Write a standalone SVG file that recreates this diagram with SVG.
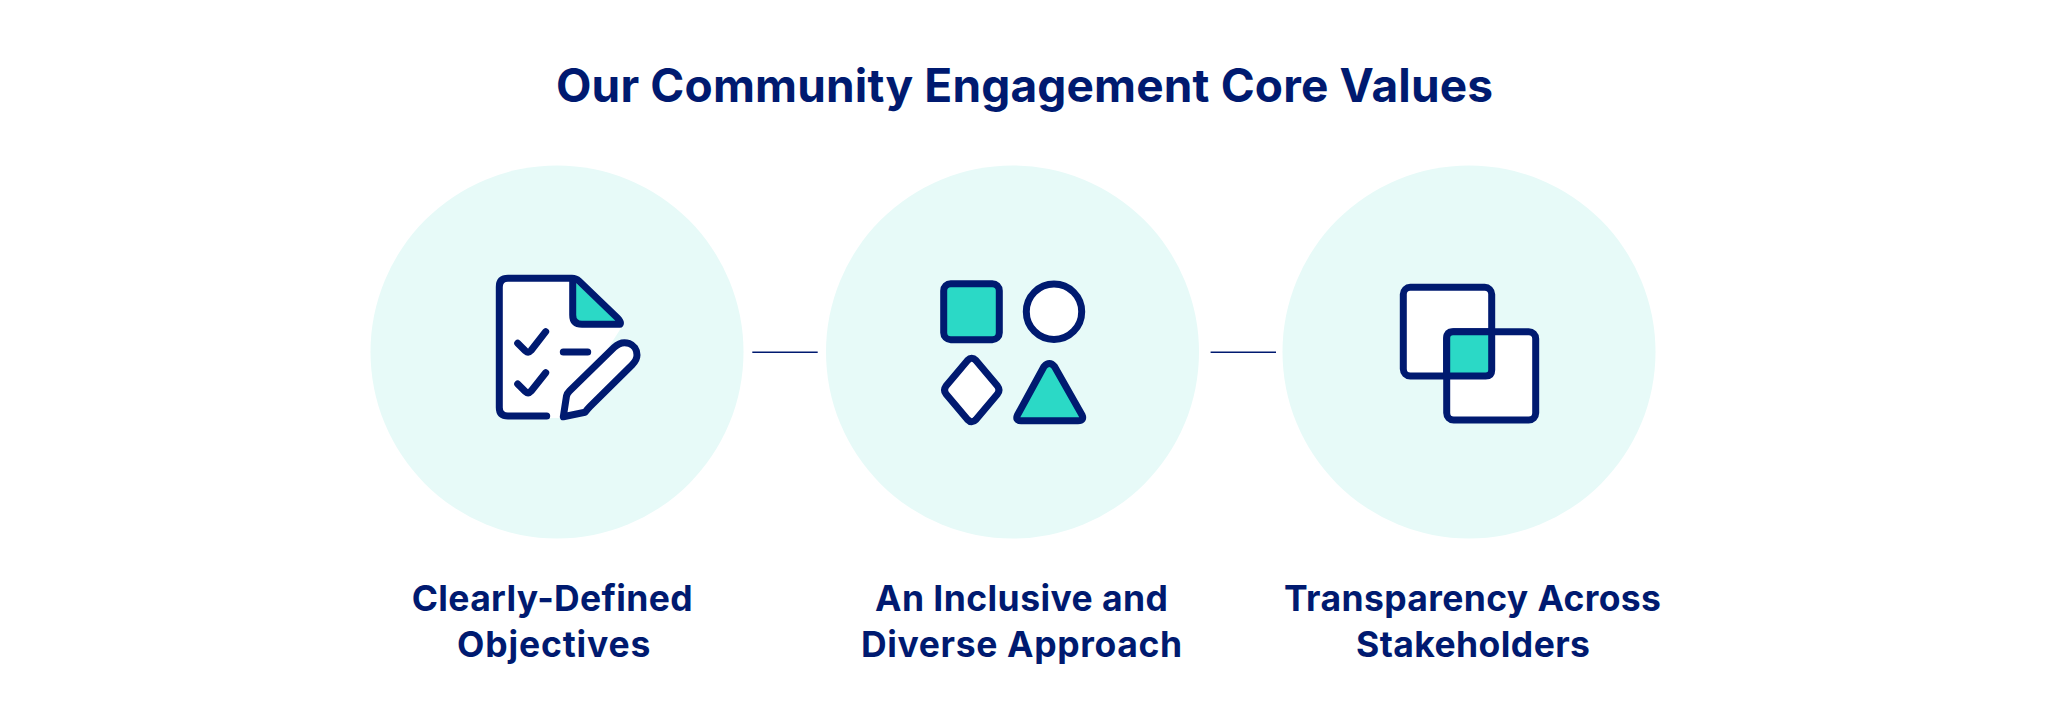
<svg xmlns="http://www.w3.org/2000/svg" width="2048" height="720" viewBox="0 0 2048 720">
<style>
.bg{fill:#E7FAF8}
.ic{stroke:#001A70;stroke-width:7;stroke-linecap:round;stroke-linejoin:round;fill:none}
.w{fill:#fff}
.t{fill:#2BD9C6}
.tx{font-family:"Inter","Liberation Sans",sans-serif;font-weight:700;fill:#001A70}
.h{font-size:46px}
.l{font-size:35.5px}
.c{stroke:#001A70;stroke-width:1.5;fill:none}
</style>
<rect width="2048" height="720" fill="#fff"/>
<text id="title" class="tx h" x="556" y="102" textLength="937" lengthAdjust="spacing">Our Community Engagement Core Values</text>
<g id="connectors">
<line class="c" x1="752.3" y1="352.3" x2="817.7" y2="352.3"/>
<line class="c" x1="1210.6" y1="352.3" x2="1276" y2="352.3"/>
</g>
<g id="node1">
<circle class="bg" cx="557" cy="352" r="186.5"/>
<path class="w" d="M507 278.3H577L623 325 563 418H507Q499.3 418 499.3 408V286Q499.3 278.3 507 278.3Z"/>
<path class="t" d="M574 281L620 324H581Q573 324 573 316Z"/>
<path class="ic" d="M546.7 416H508Q499.3 416 499.3 407.5V287Q499.3 278.3 508 278.3H572Q576 278.3 579 281L617.5 318Q621.5 322 620 324.3H582Q572.7 324.3 572.7 315V279"/>
<path class="ic" d="M517.7 343.3L525.5 351Q528.3 353.5 531 350.5L545.7 331.7"/>
<path class="ic" d="M517.7 384L525.5 391.7Q528.3 394.2 531 391.2L545.7 372.7"/>
<path class="ic" d="M563.3 352H587.7"/>
<path class="ic w" d="M563.3 416.7L566.5 396Q567 393.5 569.5 391L614 347.5C624 338 637 344 637 355C637 359 635 362 632 365L590 406.5Q588 408.5 585 412.3L563.3 416.7Z"/>
</g>
<g id="node2">
<circle class="bg" cx="1012.5" cy="352" r="186.5"/>
<rect class="ic t" x="943.7" y="283.7" width="55.6" height="56" rx="7"/>
<circle class="ic w" cx="1054" cy="311.7" r="27.7"/>
<path class="ic w" d="M967.5 360.5Q971.7 356 976 360.5L997.5 386Q1000.5 390 997.5 394L976 419.5Q971.7 424 967.5 419.5L946 394Q943 390 946 386Z"/>
<path class="ic t" d="M1044 366.5Q1049.5 360.5 1054.5 366.5L1082 415Q1084.5 420.7 1078 420.7H1021Q1015 420.7 1017.5 415Z"/>
</g>
<g id="node3">
<circle class="bg" cx="1469" cy="352" r="186.5"/>
<rect class="ic w" x="1403.3" y="287.3" width="88.4" height="88.7" rx="7"/>
<rect class="ic w" x="1446.7" y="331.7" width="89" height="88.3" rx="7"/>
<path class="t" d="M1453 331.7H1491.7V376H1446.7V338Q1446.7 331.7 1453 331.7Z"/>
<path class="ic" d="M1446.7 376V338Q1446.7 331.7 1453 331.7H1491.7V370Q1491.7 376 1485.7 376Z"/>
</g>
<text class="tx l" x="411.7" y="610.5" textLength="281" lengthAdjust="spacing">Clearly-Defined</text>
<text class="tx l" x="457" y="656.5" textLength="193.5" lengthAdjust="spacing">Objectives</text>
<text class="tx l" x="875" y="610.5" textLength="293" lengthAdjust="spacing">An Inclusive and</text>
<text class="tx l" x="861" y="656.5" textLength="321" lengthAdjust="spacing">Diverse Approach</text>
<text class="tx l" x="1284" y="610.5" textLength="377" lengthAdjust="spacing">Transparency Across</text>
<text class="tx l" x="1356" y="656.5" textLength="234" lengthAdjust="spacing">Stakeholders</text>
</svg>
